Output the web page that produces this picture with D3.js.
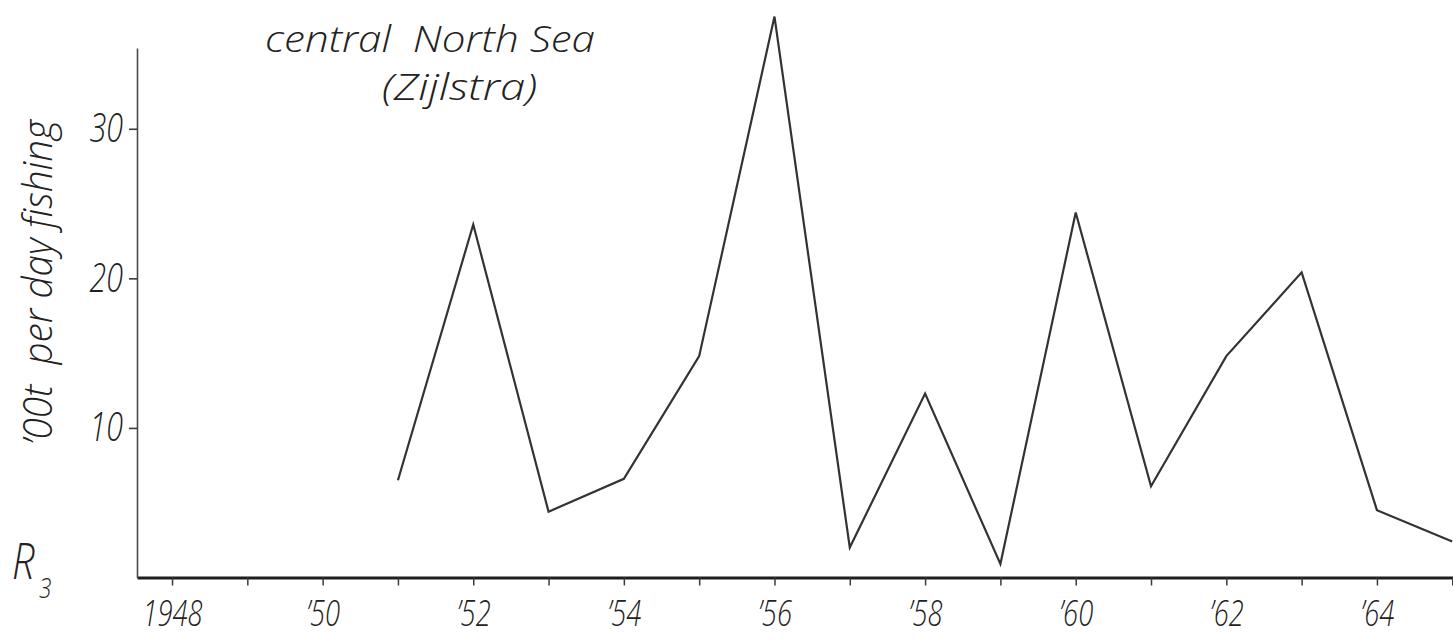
<!DOCTYPE html>
<html>
<head>
<meta charset="utf-8">
<script src="https://cdn.jsdelivr.net/npm/d3@7"></script>
<style>
  html, body { margin: 0; padding: 0; background: #fff; }
  svg { display: block; }
  .lettering { font-family: "Open Sans", "DejaVu Sans", sans-serif; font-style: italic; font-weight: 300; fill: #222; white-space: pre; }
</style>
</head>
<body>
<svg id="chart" width="1453" height="640"></svg>
<script>
// R3 recruitment index, central North Sea, by year class
const years  = [1951, 1952, 1953, 1954, 1955, 1956, 1957, 1958, 1959, 1960, 1961, 1962, 1963, 1964, 1965];
const r3     = [6.5, 23.6, 4.4, 6.6, 14.8, 37.5, 2.0, 12.3, 0.9, 24.4, 6.1, 14.8, 20.4, 4.5, 2.4];

const xTicks  = [1948, 1949, 1950, 1951, 1952, 1953, 1954, 1955, 1956, 1957, 1958, 1959, 1960, 1961, 1962, 1963, 1964, 1965];
const xLabels = ["1948", "", "\u201950", "", "\u201952", "", "\u201954", "", "\u201956", "", "\u201958", "", "\u201960", "", "\u201962", "", "\u201964", ""];
const yTicks  = [10, 20, 30];
const yLabels = ["10", "20", "30"];

const titleLines = ["central  North Sea", "(Zijlstra)"];
const yTitle = "\u201900t  per day fishing";

const W = 1453, H = 640;
const svg = d3.select("#chart");
svg.append("rect").attr("width", W).attr("height", H).attr("fill", "#fff");

const x = d3.scaleLinear().domain([1947.535, 1965.01]).range([137, 1453]);
const y = d3.scaleLinear().domain([0, 35.4]).range([577.5, 48]);

const narrow = 0.76;   // horizontal squeeze of the stencil-like lettering

// x axis
const gx = svg.append("g")
  .attr("transform", `translate(0,${y(0)})`)
  .call(d3.axisBottom(x).tickValues(xTicks).tickSize(8).tickSizeOuter(0).tickPadding(15)
        .tickFormat((d, i) => xLabels[i]));
gx.select(".domain").attr("stroke", "#1e1e1e").attr("stroke-width", 3);
gx.selectAll(".tick line").attr("stroke", "#3a3a3a").attr("stroke-width", 1.5);
gx.selectAll(".tick text")
  .attr("class", "lettering")
  .attr("font-size", 36)
  .attr("transform", `scale(${narrow},1)`);

// y axis
const yPad = 14;
const gy = svg.append("g")
  .attr("transform", `translate(${x.range()[0]},0)`)
  .call(d3.axisLeft(y).tickValues(yTicks).tickSize(8).tickSizeOuter(0).tickPadding(6)
        .tickFormat((d, i) => yLabels[i]));
gy.select(".domain").attr("stroke", "#4a4a4a").attr("stroke-width", 1.6);
gy.selectAll(".tick line").attr("stroke", "#3a3a3a").attr("stroke-width", 1.6);
gy.selectAll(".tick text")
  .attr("class", "lettering")
  .attr("font-size", 40)
  .attr("x", -yPad / narrow)
  .attr("transform", `scale(${narrow},1)`);

// series line
const pts = years.map((yr, i) => ({ year: yr, v: r3[i] }));
svg.append("path")
  .datum(pts)
  .attr("fill", "none")
  .attr("stroke", "#333")
  .attr("stroke-width", 2.2)
  .attr("stroke-linejoin", "miter")
  .attr("d", d3.line().x(d => x(d.year)).y(d => y(d.v)));

// title
svg.append("text").attr("class", "lettering")
  .attr("x", 265).attr("y", 52).attr("font-size", 36)
  .attr("textLength", 330).attr("lengthAdjust", "spacingAndGlyphs")
  .text(titleLines[0]);
svg.append("text").attr("class", "lettering")
  .attr("x", 382).attr("y", 100).attr("font-size", 36)
  .attr("textLength", 155).attr("lengthAdjust", "spacingAndGlyphs")
  .text(titleLines[1]);

// y axis title
svg.append("text").attr("class", "lettering")
  .attr("transform", "translate(52,445) rotate(-90)")
  .attr("font-size", 40)
  .attr("textLength", 325).attr("lengthAdjust", "spacingAndGlyphs")
  .text(yTitle);

// series label R3
svg.append("text").attr("class", "lettering")
  .attr("transform", `translate(12,579) scale(0.8,1)`)
  .attr("font-size", 50)
  .text("R");
svg.append("text").attr("class", "lettering")
  .attr("transform", `translate(39,598) scale(0.8,1)`)
  .attr("font-size", 28)
  .text("3");
</script>
</body>
</html>
